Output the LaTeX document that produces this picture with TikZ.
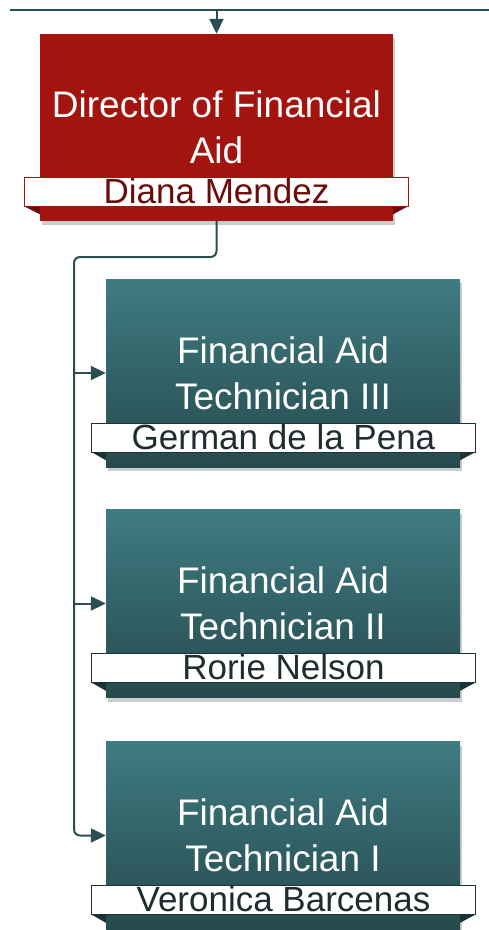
\documentclass[tikz,border=0pt]{standalone}
\usepackage{fontspec}
\setmainfont{Liberation Sans}
\usetikzlibrary{shadows,arrows.meta}
\definecolor{dirred}{HTML}{A3140F}
\definecolor{dirdark}{HTML}{6A0C09}
\definecolor{tealtop}{HTML}{3F7C82}
\definecolor{tealbot}{HTML}{264A4E}
\definecolor{tealdark}{HTML}{1A3336}
\definecolor{linecol}{HTML}{2A4D51}
\definecolor{nametext}{HTML}{1F2D2F}
\tikzset{
  post/.style={rectangle, minimum width=354pt, minimum height=188pt, inner sep=0pt,
    align=center, text=white, font=\fontsize{37}{46}\selectfont,
    drop shadow={shadow xshift=2pt, shadow yshift=-4pt, opacity=0.4}},
  dirpost/.style={post, fill=dirred, minimum width=353pt, minimum height=187pt},
  techpost/.style={post, top color=tealtop, bottom color=tealbot},
  namebar/.style={rectangle, fill=white, draw=#1, line width=0.8pt, minimum width=384pt,
    minimum height=29pt, inner sep=0pt, font=\fontsize{35}{35}\selectfont,
    text height=23pt, text depth=0pt},
  link/.style={draw=linecol, line width=2pt},
  arrowlink/.style={link, -{Triangle[length=15pt,width=14pt]}}
}
\begin{document}
\begin{tikzpicture}[x=1pt,y=-1pt]
  \useasboundingbox (0,0) rectangle (489,930);
  % posts
  \node[dirpost] (dir) at (216.5,127.5) {Director of Financial\\Aid};
  \node[techpost] (t1) at (283,373) {Financial Aid\\Technician III};
  \node[techpost] (t2) at (283,603.5) {Financial Aid\\Technician II};
  \node[techpost] (t3) at (283,835.5) {Financial Aid\\Technician I};
  % ribbon tails
  \fill[dirdark] (dir.south west) ++(-16,-15) coordinate (dtl) -- (dtl -| dir.west) -- ++(0,8) -- cycle;
  \fill[dirdark] (dir.south east) ++(15,-15) coordinate (dtr) -- (dtr -| dir.east) -- ++(0,8) -- cycle;
  \fill[tealdark] (t1.south west) ++(-14,-15) coordinate (t1l) -- (t1l -| t1.west) -- ++(0,8) -- cycle;
  \fill[tealdark] (t1.south east) ++(15,-15) coordinate (t1r) -- (t1r -| t1.east) -- ++(0,8) -- cycle;
  \fill[tealdark] (t2.south west) ++(-14,-15) coordinate (t2l) -- (t2l -| t2.west) -- ++(0,8) -- cycle;
  \fill[tealdark] (t2.south east) ++(15,-15) coordinate (t2r) -- (t2r -| t2.east) -- ++(0,8) -- cycle;
  \fill[tealdark] (t3.south west) ++(-14,-15) coordinate (t3l) -- (t3l -| t3.west) -- ++(0,8) -- cycle;
  \fill[tealdark] (t3.south east) ++(15,-15) coordinate (t3r) -- (t3r -| t3.east) -- ++(0,8) -- cycle;
  % name bars
  \node[namebar=dirred, text=dirdark] (dn) at ([yshift=29.5pt]dir.south) {Diana Mendez};
  \node[namebar=tealdark, text=nametext] (t1n) at ([xshift=0.5pt,yshift=29.5pt]t1.south) {German de la Pena};
  \node[namebar=tealdark, text=nametext] (t2n) at ([xshift=0.5pt,yshift=29.5pt]t2.south) {Rorie Nelson};
  \node[namebar=tealdark, text=nametext] (t3n) at ([xshift=0.5pt,yshift=29.5pt]t3.south) {Veronica Barcenas};
  % connectors
  \coordinate (topL) at (10,10);
  \coordinate (topR) at (489,10);
  \coordinate (feed) at (216.5,10);
  \coordinate (bus) at (74,257);
  \draw[link] (topL) -- (topR);
  \draw[arrowlink] (feed) -- (dir.north);
  \draw[arrowlink,rounded corners=6pt] (dir.south) |- (bus) |- (t3.west);
  \draw[arrowlink] (bus |- t1.west) -- (t1.west);
  \draw[arrowlink] (bus |- t2.west) -- (t2.west);
\end{tikzpicture}
\end{document}
